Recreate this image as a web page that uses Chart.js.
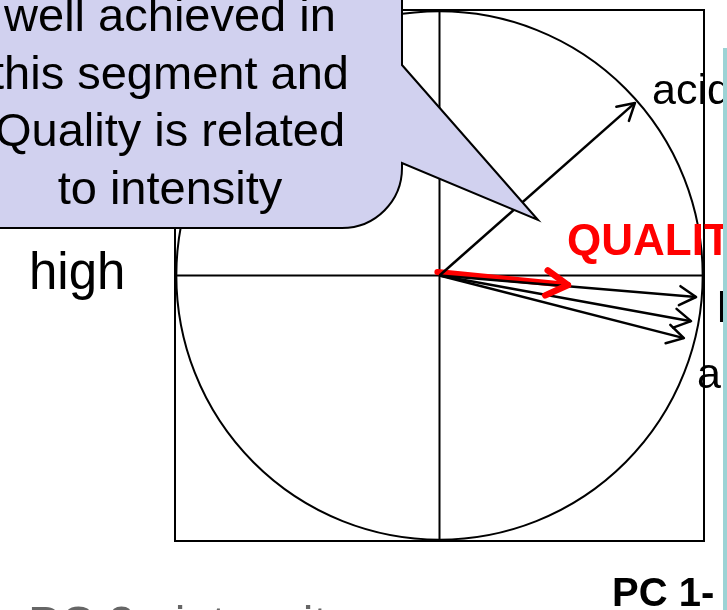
<!DOCTYPE html>
<html>
<head>
<meta charset="utf-8">
<script src="https://cdn.jsdelivr.net/npm/chart.js@4.4.0/dist/chart.umd.min.js"></script>
<style>
  html, body { margin: 0; padding: 0; background: #fff; overflow: hidden; }
  canvas { display: block; }
</style>
</head>
<body>
<canvas id="pcaChart" width="727" height="610"></canvas>
<script>
// Loadings of the variables on PC1 / PC2
const varNames = ['acid', 'harmony', '', 'aroma'];
const loadPC1 = [0.739, 0.970, 0.951, 0.924];
const loadPC2 = [0.650, -0.081, -0.172, -0.236];

// Quality projected as supplementary variable (start / end)
const qualityName = 'QUALITY';
const qualityPC1 = [-0.008, 0.486];
const qualityPC2 = [0.013, -0.036];

// Axis range and unit circle
const axisMin = -1;
const axisMax = 1;
const circleRadius = 0.995;

// Callout text
const calloutLines = ['well achieved in', 'this segment and', 'Quality is related', 'to intensity'];

const FONT = "'Liberation Sans', Arial, sans-serif";

// offsets (px) of each label from its arrow tip
const labelOffsets = [[17, 1], [21, 25], [0, 0], [13, 50]];

function drawHead(ctx, x0, y0, x1, y1, len, width, color) {
  const a = Math.atan2(y1 - y0, x1 - x0);
  const spread = Math.PI / 6;
  ctx.save();
  ctx.strokeStyle = color;
  ctx.lineWidth = width;
  ctx.lineCap = 'round';
  ctx.lineJoin = 'round';
  ctx.beginPath();
  ctx.moveTo(x1 - len * Math.cos(a - spread), y1 - len * Math.sin(a - spread));
  ctx.lineTo(x1, y1);
  ctx.lineTo(x1 - len * Math.cos(a + spread), y1 - len * Math.sin(a + spread));
  ctx.stroke();
  ctx.restore();
}

// Cadre, axes, cercle, pointes de flèches et textes
const circlePlugin = {
  id: 'circlePlugin',
  beforeDatasetsDraw(chart) {
    const ctx = chart.ctx;
    const xs = chart.scales.x;
    const ys = chart.scales.y;
    const area = chart.chartArea;
    const cx = xs.getPixelForValue(0);
    const cy = ys.getPixelForValue(0);
    ctx.save();
    ctx.strokeStyle = '#000';
    ctx.lineWidth = 2;
    ctx.strokeRect(area.left, area.top, area.right - area.left, area.bottom - area.top);
    ctx.beginPath();
    ctx.moveTo(area.left, cy);
    ctx.lineTo(area.right, cy);
    ctx.moveTo(cx, area.top);
    ctx.lineTo(cx, area.bottom);
    ctx.stroke();
    const rx = xs.getPixelForValue(circleRadius) - cx;
    const ry = cy - ys.getPixelForValue(circleRadius);
    ctx.beginPath();
    ctx.ellipse(cx, cy, rx, ry, 0, 0, Math.PI * 2);
    ctx.stroke();
    ctx.restore();
  },
  afterDatasetsDraw(chart) {
    const ctx = chart.ctx;
    const xs = chart.scales.x;
    const ys = chart.scales.y;
    const cx = xs.getPixelForValue(0);
    const cy = ys.getPixelForValue(0);

    // pointes noires + noms des variables
    ctx.save();
    ctx.font = '43px ' + FONT;
    ctx.fillStyle = '#000';
    ctx.textBaseline = 'alphabetic';
    for (let i = 0; i < varNames.length; i++) {
      const tx = xs.getPixelForValue(loadPC1[i]);
      const ty = ys.getPixelForValue(loadPC2[i]);
      drawHead(ctx, cx, cy, tx, ty, 19, 2.5, '#000');
      if (varNames[i] !== '') {
        ctx.fillText(varNames[i], tx + labelOffsets[i][0], ty + labelOffsets[i][1]);
      }
    }
    ctx.restore();

    // flèche rouge de la qualité
    const qx0 = xs.getPixelForValue(qualityPC1[0]);
    const qy0 = ys.getPixelForValue(qualityPC2[0]);
    const qx = xs.getPixelForValue(qualityPC1[1]);
    const qy = ys.getPixelForValue(qualityPC2[1]);
    drawHead(ctx, qx0, qy0, qx, qy, 25, 6.5, '#ff0000');
    ctx.save();
    ctx.font = 'bold 44px ' + FONT;
    ctx.fillStyle = '#ff0000';
    ctx.fillText(qualityName, qx - 1, qy - 30);
    ctx.restore();
  },
  afterDraw(chart) {
    const ctx = chart.ctx;
    ctx.save();

    // label à gauche
    ctx.font = '51px ' + FONT;
    ctx.fillStyle = '#000';
    ctx.fillText('high', 29, 289);

    // bulle (callout)
    ctx.beginPath();
    ctx.moveTo(-10, -10);
    ctx.lineTo(402, -10);
    ctx.lineTo(402, 65);
    ctx.lineTo(538, 220);
    ctx.lineTo(402, 163);
    ctx.arcTo(402, 228, 340, 228, 60);
    ctx.lineTo(-10, 228);
    ctx.closePath();
    ctx.fillStyle = '#d1d1ef';
    ctx.fill();
    ctx.lineWidth = 2;
    ctx.strokeStyle = '#000';
    ctx.stroke();

    ctx.font = '47px ' + FONT;
    ctx.fillStyle = '#000';
    ctx.textAlign = 'center';
    calloutLines.forEach((line, i) => {
      ctx.fillText(line, 170, 31 + i * 57.5);
    });

    // texte du bas
    ctx.textAlign = 'left';
    ctx.font = 'bold 40px ' + FONT;
    ctx.fillText('PC 1-', 612, 606);
    ctx.font = '48px ' + FONT;
    ctx.fillStyle = '#666';
    ctx.fillText('PC 2 : intensity', 28, 640);

    // panneau turquoise à droite
    ctx.fillStyle = '#9cd3d5';
    ctx.fillRect(723, 48, 10, 570);
    ctx.restore();
  }
};

const datasets = varNames.map((name, i) => ({
  label: name || 'var' + i,
  data: [{ x: 0, y: 0 }, { x: loadPC1[i], y: loadPC2[i] }],
  showLine: true,
  borderColor: '#000',
  borderWidth: 2.5,
  pointRadius: 0,
  fill: false
}));
datasets.push({
  label: qualityName,
  data: [{ x: qualityPC1[0], y: qualityPC2[0] }, { x: qualityPC1[1], y: qualityPC2[1] }],
  showLine: true,
  borderColor: '#ff0000',
  borderWidth: 6,
  borderCapStyle: 'round',
  pointRadius: 0,
  fill: false
});

new Chart(document.getElementById('pcaChart'), {
  type: 'scatter',
  data: { datasets: datasets },
  options: {
    responsive: false,
    animation: false,
    devicePixelRatio: 1,
    layout: { padding: { left: 175, top: 10, right: 23, bottom: 69 } },
    scales: {
      x: { type: 'linear', min: axisMin, max: axisMax, display: false },
      y: { type: 'linear', min: axisMin, max: axisMax, display: false }
    },
    plugins: {
      legend: { display: false },
      tooltip: { enabled: false }
    }
  },
  plugins: [circlePlugin]
});
</script>
</body>
</html>
